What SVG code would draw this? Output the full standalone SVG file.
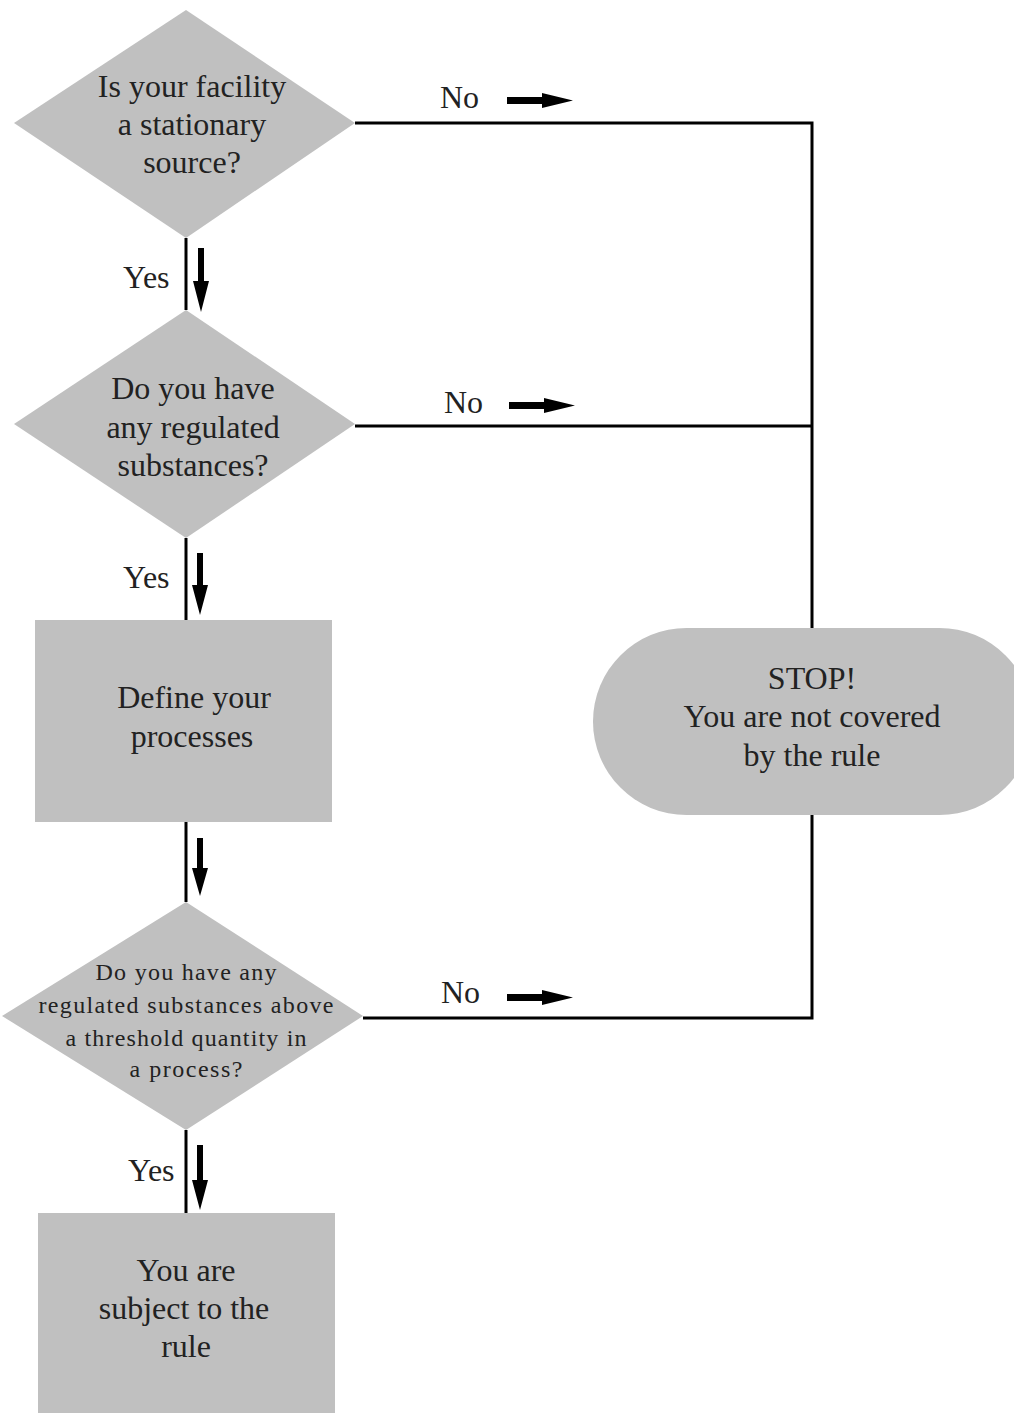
<svg xmlns="http://www.w3.org/2000/svg" width="1014" height="1413" viewBox="0 0 1014 1413">
<style>
.shape{fill:#c0c0c0;stroke:none}
.t{font-size:32px;fill:#222;text-anchor:middle}
.s{font-size:24px}
.lbl{font-size:32px;fill:#222}
.ln{stroke:#000;stroke-width:3;fill:none}
.ah{fill:#000;stroke:none}
</style>
<g font-family="Liberation Serif, Times New Roman, DejaVu Serif, serif">
<g id="connectors">
<path class="ln" d="M355,123 H812 V628"/>
<path class="ln" d="M355,426 H812"/>
<path class="ln" d="M812,815 V1018 H363"/>
<path class="ln" d="M186,238 V310"/>
<path class="ln" d="M186,538 V620"/>
<path class="ln" d="M186,822 V902"/>
<path class="ln" d="M186,1130 V1213"/>
<polygon class="ah" points="198,248 204,248 204,281 209,281 201,312 193,281 198,281"/>
<polygon class="ah" points="197,553 203,553 203,585 208,585 200,615 192,585 197,585"/>
<polygon class="ah" points="197,838 203,838 203,868 208,868 200,896 192,868 197,868"/>
<polygon class="ah" points="197,1145 203,1145 203,1180 208,1180 200,1210 192,1180 197,1180"/>
<polygon class="ah" points="507,97 542,97 542,93 573,100.5 542,108 542,104 507,104"/>
<polygon class="ah" points="509,402 544,402 544,398 575,405.5 544,413 544,409 509,409"/>
<polygon class="ah" points="507,994 542,994 542,990 573,997.5 542,1005 542,1001 507,1001"/>
<text class="lbl" x="440" y="108">No</text>
<text class="lbl" x="444" y="413">No</text>
<text class="lbl" x="441" y="1003">No</text>
<text class="lbl" x="123" y="288">Yes</text>
<text class="lbl" x="123" y="588">Yes</text>
<text class="lbl" x="128" y="1181">Yes</text>
</g>
<g id="q1">
<polygon class="shape" points="186,10 355,123 186,238 14,123"/>
<text class="t" x="192" y="97">Is your facility</text>
<text class="t" x="192" y="135">a stationary</text>
<text class="t" x="192" y="173">source?</text>
</g>
<g id="q2">
<polygon class="shape" points="186,310 355,424 186,538 14,424"/>
<text class="t" x="193" y="399">Do you have</text>
<text class="t" x="193" y="438">any regulated</text>
<text class="t" x="193" y="476">substances?</text>
</g>
<g id="define">
<rect class="shape" x="35" y="620" width="297" height="202"/>
<text class="t" x="194" y="708">Define your</text>
<text class="t" x="192" y="747">processes</text>
</g>
<g id="stop">
<rect class="shape" x="593" y="628" width="440" height="187" rx="93.5" ry="93.5"/>
<text class="t" x="812" y="689">STOP!</text>
<text class="t" x="812" y="727">You are not covered</text>
<text class="t" x="812" y="766">by the rule</text>
</g>
<g id="q3">
<polygon class="shape" points="186,902 363,1016 186,1130 2,1016"/>
<text class="t s" x="186" y="980" textLength="181" lengthAdjust="spacing">Do you have any</text>
<text class="t s" x="186" y="1013" textLength="295" lengthAdjust="spacing">regulated substances above</text>
<text class="t s" x="186" y="1046" textLength="241" lengthAdjust="spacing">a threshold quantity in</text>
<text class="t s" x="186" y="1077" textLength="113" lengthAdjust="spacing">a process?</text>
</g>
<g id="subject">
<rect class="shape" x="38" y="1213" width="297" height="210"/>
<text class="t" x="186" y="1281">You are</text>
<text class="t" x="184" y="1319">subject to the</text>
<text class="t" x="186" y="1357">rule</text>
</g>
</g>
</svg>
